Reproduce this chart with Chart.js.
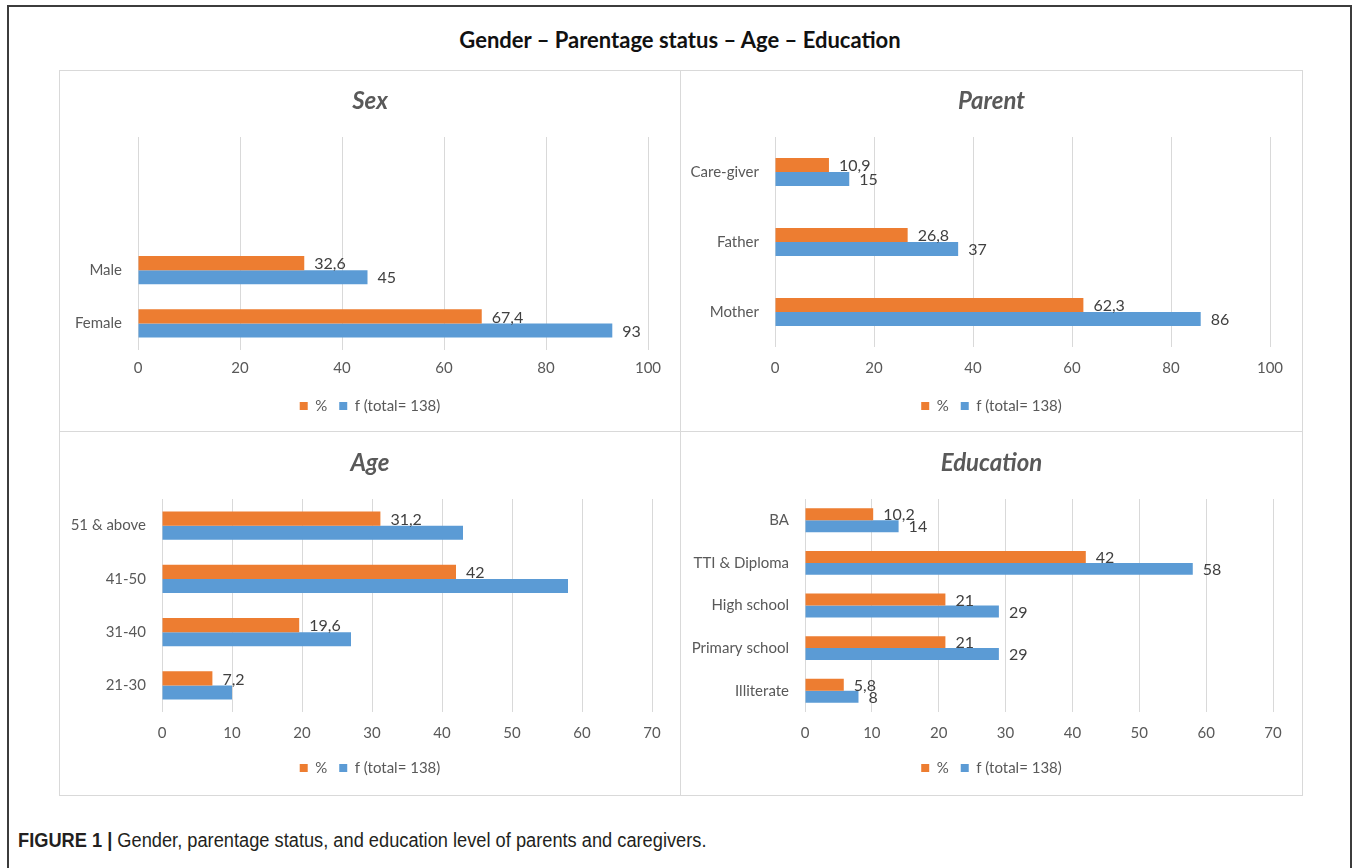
<!DOCTYPE html>
<html>
<head>
<meta charset="utf-8">
<script src="https://cdn.jsdelivr.net/npm/chart.js@4.4.1/dist/chart.umd.min.js"></script>
<style>
html,body{margin:0;padding:0;background:#fff;}
body{width:1357px;height:868px;position:relative;overflow:hidden;font-family:Lato,"Open Sans",sans-serif;}
#frame{position:absolute;left:7px;top:5px;width:1345px;height:900px;border:2px solid #3c3c3c;box-sizing:border-box;}
#maintitle{position:absolute;left:0;top:27px;width:1360px;text-align:center;font:bold 22px/26px Lato,sans-serif;color:#111;}
#inner{position:absolute;left:59px;top:70px;width:1244px;height:726px;border:1px solid #d9d9d9;box-sizing:border-box;}
#vdiv{position:absolute;left:680px;top:70px;width:1px;height:726px;background:#d9d9d9;}
#hdiv{position:absolute;left:59px;top:431px;width:1244px;height:1px;background:#d9d9d9;}
.cv{position:absolute;}
#caption{position:absolute;left:18px;top:828px;font:20px/24px "Liberation Sans Narrow","Arial Narrow","Liberation Sans",sans-serif;color:#231f20;white-space:nowrap;transform:scaleX(0.912);transform-origin:0 50%;}
#caption b{font-weight:bold;}
</style>
</head>
<body>
<div id="frame"></div>
<div id="maintitle">Gender – Parentage status – Age – Education</div>
<div id="inner"></div>
<div id="vdiv"></div>
<div id="hdiv"></div>
<canvas id="cSex" class="cv"></canvas>
<canvas id="cParent" class="cv"></canvas>
<canvas id="cAge" class="cv"></canvas>
<canvas id="cEdu" class="cv"></canvas>
<div id="caption"><b>FIGURE 1 |</b> Gender, parentage status, and education level of parents and caregivers.</div>
<script>
// ---------- DATA ----------
const seriesNames = ["%", "f (total= 138)"];

const sexCategories = ["Female", "Male", "", ""];
const sexPercent = [67.4, 32.6, null, null];
const sexFreq = [93, 45, null, null];

const parentCategories = ["Mother", "Father", "Care-giver"];
const parentPercent = [62.3, 26.8, 10.9];
const parentFreq = [86, 37, 15];

const ageCategories = ["21-30", "31-40", "41-50", "51 & above"];
const agePercent = [7.2, 19.6, 42, 31.2];
const ageFreq = [10, 27, 58, 43];

const eduCategories = ["Illiterate", "Primary school", "High school", "TTI & Diploma", "BA"];
const eduPercent = [5.8, 21, 21, 42, 10.2];
const eduFreq = [8, 29, 29, 58, 14];

const topAxisMax = 100, topAxisStep = 20;
const bottomAxisMax = 70, bottomAxisStep = 10;

// ---------- STYLE ----------
const ORANGE = "#ED7D31", BLUE = "#5B9BD5";
const TEXT = "#595959", GRID = "#d9d9d9";
const TITLE_SIZE = 24, LEG_FONT = 15, LEG_PAD = 12;

const fmt = v => String(v).replace(".", ",");

const valueLabels = {
  id: "valueLabels",
  afterDatasetsDraw(chart) {
    const ctx = chart.ctx;
    ctx.save();
    ctx.font = "16px Lato, sans-serif";
    ctx.fillStyle = "#404040";
    ctx.textAlign = "left";
    ctx.textBaseline = "middle";
    chart.data.datasets.forEach((ds, i) => {
      if (ds.showValues === false) return;
      const meta = chart.getDatasetMeta(i);
      meta.data.forEach((bar, j) => {
        const v = ds.data[j];
        if (v === null || v === undefined) return;
        ctx.fillText(fmt(v), bar.x + 10, bar.y + 1);
      });
    });
    ctx.restore();
  }
};

function makeChart(id, g, title, labels, pct, freq, axisMax, axisStep, catPct, showFreq) {
  const cv = document.getElementById(id);
  cv.width = g.w; cv.height = g.h;
  cv.style.left = g.x + "px"; cv.style.top = g.y + "px";
  cv.style.width = g.w + "px"; cv.style.height = g.h + "px";
  const rightW = g.w - (g.plotRight - g.x);
  const yW = g.plotLeft - g.x;
  const tLH = TITLE_SIZE * 1.2;
  const tTop = (g.titleY - g.y) - tLH / 2;
  const tBot = (g.plotTop - g.y) - tTop - tLH;
  const padB = g.h - (g.legendY - g.y) - (LEG_FONT / 2 + 10);
  const legH = LEG_FONT + LEG_PAD + 10;
  const xH = (g.h - padB - legH) - (g.plotBottom - g.y);
  const tickPad = (g.tickY - g.plotBottom) - 9;

  return new Chart(cv, {
    type: "bar",
    data: {
      labels: labels,
      datasets: [
        { label: seriesNames[0], data: pct, backgroundColor: ORANGE, borderWidth: 0,
          categoryPercentage: catPct, barPercentage: 1.0 },
        { label: seriesNames[1], data: freq, backgroundColor: BLUE, borderWidth: 0,
          categoryPercentage: catPct, barPercentage: 1.0, showValues: showFreq }
      ]
    },
    options: {
      indexAxis: "y",
      responsive: false,
      animation: false,
      events: [],
      layout: { padding: { left: 0, right: 0, top: 0, bottom: padB } },
      scales: {
        x: {
          min: 0, max: axisMax,
          ticks: { stepSize: axisStep, color: TEXT, font: { family: "Lato", size: 15 }, padding: tickPad },
          grid: { color: GRID, lineWidth: 1, drawTicks: false },
          border: { display: false },
          afterFit: s => { s.height = xH; }
        },
        y: {
          reverse: true,
          ticks: { color: TEXT, font: { family: "Lato", size: 15 }, padding: 16 },
          grid: { display: false, drawTicks: false },
          border: { display: false },
          afterFit: s => { s.width = yW; }
        },
        spacer: {
          type: "linear", axis: "y", position: "right", display: true,
          ticks: { display: false },
          grid: { display: false, drawTicks: false },
          border: { display: false },
          afterFit: s => { s.width = rightW; }
        }
      },
      plugins: {
        title: {
          display: true, text: title, color: TEXT,
          font: { family: "Lato", size: TITLE_SIZE, weight: "bold", style: "italic", lineHeight: 1.2 },
          padding: { top: tTop, bottom: tBot }
        },
        legend: {
          display: true, position: "bottom",
          labels: { color: TEXT, font: { family: "Lato", size: LEG_FONT }, boxWidth: 8, boxHeight: 8, padding: LEG_PAD }
        },
        tooltip: { enabled: false }
      }
    },
    plugins: [valueLabels]
  });
}

makeChart("cSex",
  { x: 60, y: 71, w: 620, h: 360, plotLeft: 138, plotRight: 648, plotTop: 137, plotBottom: 350, titleY: 101, tickY: 368, legendY: 406 },
  "Sex", sexCategories, sexPercent, sexFreq, topAxisMax, topAxisStep, 0.526, true);

makeChart("cParent",
  { x: 681, y: 71, w: 621, h: 360, plotLeft: 775, plotRight: 1270, plotTop: 137, plotBottom: 347, titleY: 101, tickY: 368, legendY: 406 },
  "Parent", parentCategories, parentPercent, parentFreq, topAxisMax, topAxisStep, 0.4, true);

makeChart("cAge",
  { x: 60, y: 432, w: 620, h: 363, plotLeft: 162, plotRight: 652, plotTop: 499, plotBottom: 712, titleY: 463, tickY: 733, legendY: 768 },
  "Age", ageCategories, agePercent, ageFreq, bottomAxisMax, bottomAxisStep, 0.526, false);

makeChart("cEdu",
  { x: 681, y: 432, w: 621, h: 363, plotLeft: 805, plotRight: 1273, plotTop: 499, plotBottom: 712, titleY: 463, tickY: 733, legendY: 768 },
  "Education", eduCategories, eduPercent, eduFreq, bottomAxisMax, bottomAxisStep, 0.56, true);
</script>
</body>
</html>
